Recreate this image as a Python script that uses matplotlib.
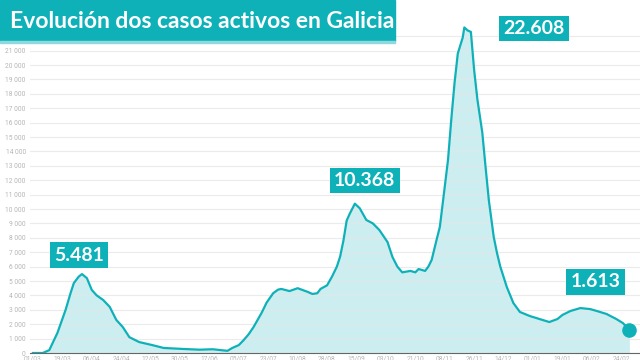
import matplotlib
matplotlib.use("Agg")
import matplotlib.pyplot as plt
from matplotlib.patches import Rectangle

# Active cases in Galicia, days counted from 01/03/2020
days = [0, 6, 10, 15, 20, 23, 25, 28, 30, 33, 36, 39, 43, 47, 51, 55, 59, 65, 73,
        80, 92, 102, 110, 119, 122, 126, 129, 132, 135, 140, 143, 147, 150, 152,
        157, 162, 168, 171, 174, 176, 180, 183, 186, 188, 190, 192, 194, 197, 200,
        204, 208, 212, 217, 220, 223, 226, 231, 234, 236, 240, 242, 244, 247, 249,
        251, 254, 256, 258, 260, 263, 264, 266, 268, 270, 272, 275, 277, 279, 282,
        284, 286, 290, 294, 298, 304, 310, 316, 321, 324, 329, 335, 341, 345, 351,
        357, 361, 365]
cases = [0, 0, 200, 1400, 3000, 4150, 4850, 5300, 5481, 5200, 4380, 4000, 3680,
         3200, 2300, 1800, 1100, 760, 550, 350, 280, 230, 260, 150, 350, 550, 900,
         1300, 1800, 2800, 3500, 4150, 4400, 4450, 4300, 4500, 4250, 4100, 4150,
         4450, 4700, 5300, 6000, 6700, 7800, 9200, 9700, 10368, 10050, 9240, 9000,
         8540, 7700, 6670, 6000, 5600, 5700, 5600, 5830, 5700, 6000, 6460, 7850,
         8750, 10600, 13400, 16200, 18750, 20800, 21900, 22608, 22400, 22300, 19650,
         17600, 15300, 12900, 10600, 8050, 6940, 6000, 4580, 3470, 2850, 2570, 2360,
         2150, 2360, 2640, 2920, 3120, 3050, 2920, 2710, 2360, 2080, 1613]

tick_days = list(range(0, 361, 18))
tick_labels = ["01/03", "19/03", "06/04", "24/04", "12/05", "30/05", "17/06",
               "05/07", "23/07", "10/08", "28/08", "15/09", "03/10", "21/10",
               "08/11", "26/11", "14/12", "01/01", "19/01", "06/02", "24/02"]
y_ticks = list(range(0, 22001, 1000))

# highlighted values: (index into series, offset in pixels of label centre)
highlights = [(cases.index(5481), (-3, 19)),
              (cases.index(10368), (10, 23)),
              (cases.index(22608), (70, -1)),
              (len(cases) - 1, (-34, 48))]

TEAL = "#0fb1b9"
FILL = "#cdeef0"
W, H = 640, 360

fig = plt.figure(figsize=(6.4, 3.6), dpi=100)
ax = fig.add_axes([30 / W, 7 / H, 610 / W, 353 / H])

ax.fill_between(days, cases, 0, color=FILL, zorder=1, linewidth=0)
ax.plot(days, cases, color=TEAL, linewidth=1.6, zorder=3, solid_joinstyle="round")
ax.scatter([days[-1]], [cases[-1]], s=90, color=TEAL, zorder=4, clip_on=False)

ax.set_xlim(-1.8, 371.5)
ax.set_ylim(0, 24514)
ax.set_yticks(y_ticks)
ax.set_yticklabels([f"{v:,}".replace(",", " ") for v in y_ticks])
ax.set_xticks(tick_days)
ax.set_xticklabels(tick_labels)
ax.tick_params(axis="both", length=0, labelsize=4.8, labelcolor="#b5b5b5")
ax.tick_params(axis="y", pad=3)
ax.tick_params(axis="x", pad=1.5)
for lab in ax.get_xticklabels() + ax.get_yticklabels():
    lab.set_fontfamily("Roboto")

ax.grid(axis="y", color="#e6e6e6", linewidth=0.8, alpha=0.8, zorder=2)
ax.grid(axis="x", visible=False)
ax.set_axisbelow(False)
for s in ["top", "right", "left"]:
    ax.spines[s].set_visible(False)
ax.spines["bottom"].set_color("#666666")
ax.spines["bottom"].set_linewidth(0.8)
ax.spines["bottom"].set_zorder(5)

for idx, (dx, dy) in highlights:
    label = f"{cases[idx]:,}".replace(",", ".")
    ax.annotate(label, (days[idx], cases[idx]), xytext=(dx, dy),
                textcoords="offset pixels", ha="center", va="center",
                fontsize=14, fontweight="bold", family="Lato", color="white",
                zorder=6,
                bbox=dict(boxstyle="square,pad=0.22", fc=TEAL, ec="none"))

# title box
fig.patches.append(Rectangle((0, 1 - 41 / H), 395 / W, 41 / H,
                             transform=fig.transFigure, color=TEAL, zorder=10))
fig.patches.append(Rectangle((0, 1 - 43 / H), 395 / W, 2 / H,
                             transform=fig.transFigure, color="#8fd9dd", zorder=10))
fig.text(10 / W, 1 - 21 / H, "Evolución dos casos activos en Galicia",
         fontsize=16.5, fontweight="bold", family="Lato", color="white",
         ha="left", va="center", zorder=11)

fig.savefig("out.png", dpi=100)
